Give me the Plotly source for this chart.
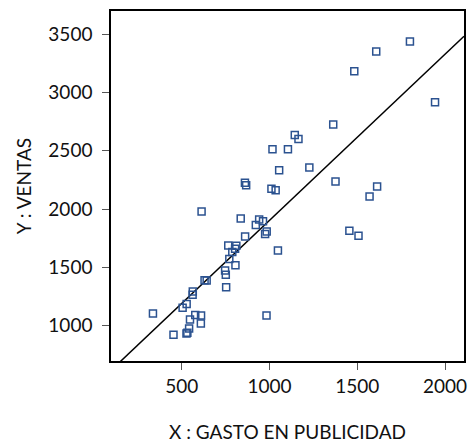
import plotly.graph_objects as go

# Data (X: gasto en publicidad, Y: ventas)
gasto = [1800, 1608, 1483, 1943, 1363, 1144, 1165, 1017, 1105, 1055,
         1227, 860, 867, 1011, 1035, 1376, 1613, 1570, 613, 836,
         941, 963, 922, 984, 975, 861, 1455, 1507, 765, 811,
         804, 788, 1048, 771, 806, 747, 751, 753, 630, 642,
         563, 562, 528, 505, 336, 577, 610, 547, 609, 542,
         527, 532, 453, 983]
ventas = [3438, 3353, 3184, 2918, 2726, 2636, 2602, 2514, 2514, 2333,
          2356, 2225, 2205, 2175, 2161, 2237, 2193, 2108, 1980, 1918,
          1911, 1896, 1864, 1808, 1786, 1764, 1814, 1771, 1688, 1685,
          1659, 1631, 1644, 1570, 1517, 1473, 1436, 1328, 1388, 1387,
          1291, 1265, 1184, 1153, 1104, 1091, 1085, 1051, 1017, 975,
          932, 938, 921, 1085]

# Fitted regression line
intercepto = 476
pendiente = 1.427
x_range = [97, 2108]
y_range = [695, 3701]
x_ticks = [500, 1000, 1500, 2000]
y_ticks = [1000, 1500, 2000, 2500, 3000, 3500]

linea_x = x_range
linea_y = [intercepto + pendiente * v for v in linea_x]

FONT = "Lato"

fig = go.Figure()
fig.add_trace(go.Scatter(
    x=linea_x, y=linea_y, mode="lines",
    line=dict(color="black", width=1.5), showlegend=False, hoverinfo="skip"))
fig.add_trace(go.Scatter(
    x=gasto, y=ventas, mode="markers",
    marker=dict(symbol="square-open", size=7, color="#2b5290",
                line=dict(width=1.5, color="#2b5290")),
    showlegend=False))

fig.update_layout(
    width=472, height=445,
    margin=dict(l=111, r=5, t=11, b=79),
    plot_bgcolor="white", paper_bgcolor="white",
    font=dict(family=FONT, size=19, color="#111"),
)
fig.update_xaxes(
    range=x_range, tickvals=x_ticks, showgrid=False, zeroline=False,
    showline=True, linecolor="black", linewidth=1.5, mirror=True,
    ticks="outside", ticklen=7, tickcolor="#555",
    title=dict(text="X : GASTO EN PUBLICIDAD", standoff=30,
               font=dict(family=FONT, size=19)),
)
fig.update_yaxes(
    range=y_range, tickvals=y_ticks, showgrid=False, zeroline=False,
    showline=True, linecolor="black", linewidth=1.5, mirror=True,
    ticks="outside", ticklen=7, tickcolor="#555", ticklabelstandoff=6,
    title=dict(text="Y : VENTAS", standoff=12,
               font=dict(family=FONT, size=19)),
)

fig.write_html("out.html")
